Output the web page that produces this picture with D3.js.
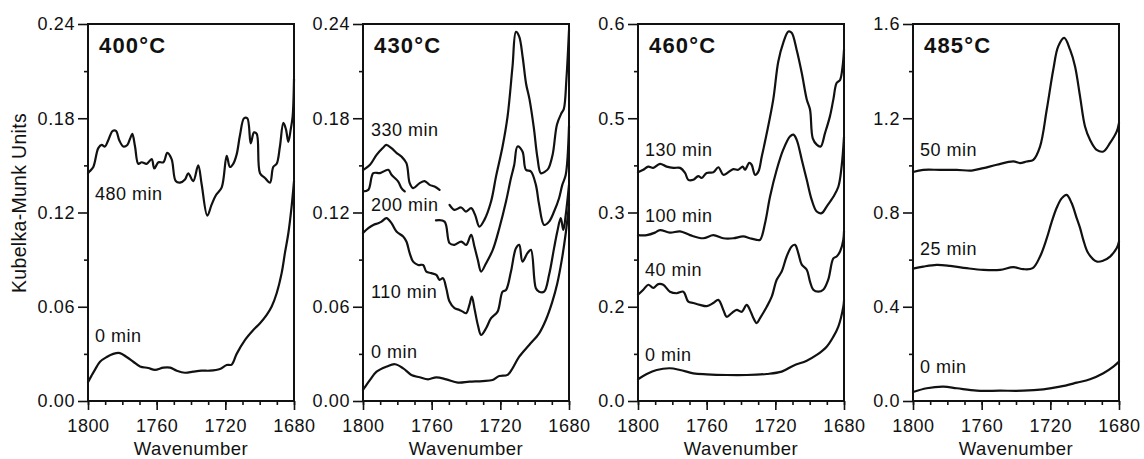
<!DOCTYPE html>
<html><head><meta charset="utf-8">
<script src="https://cdn.jsdelivr.net/npm/d3@7"></script>
<style>
body{margin:0;background:#fff;}
text{font-family:"Liberation Sans",Arial,Helvetica,sans-serif;fill:#111;}
</style></head>
<body>
<script>
// ---------------- DATA ----------------
const temperatures = ["400°C","430°C","460°C","485°C"];
const yMax = [0.24, 0.24, 0.6, 1.6];
const xTicks = [1800, 1760, 1720, 1680];
const yTickValues400 = [0, 0.06, 0.12, 0.18, 0.24];
const yTickLabels400 = ["0.00","0.06","0.12","0.18","0.24"];
const yTickValues430 = [0, 0.06, 0.12, 0.18, 0.24];
const yTickLabels430 = ["0.00","0.06","0.12","0.18","0.24"];
const yTickValues460 = [0, 0.15, 0.3, 0.45, 0.6];
const yTickLabels460 = ["0.0","0.2","0.3","0.5","0.6"];
const yTickValues485 = [0, 0.4, 0.8, 1.2, 1.6];
const yTickLabels485 = ["0.0","0.4","0.8","1.2","1.6"];

// [wavenumber, Kubelka-Munk] ; null value = gap in the printed trace
const s400_480 = [[1800,0.145],[1799.2,0.146],[1796.9,0.149],[1794,0.161],[1792,0.163],[1790.1,0.162],[1788.2,0.166],[1785.6,0.172],[1783.7,0.172],[1781.8,0.166],[1779.4,0.162],[1777.1,0.163],[1775.5,0.167],[1774.2,0.17],[1772.6,0.162],[1770.7,0.151],[1768.7,0.152],[1765.8,0.151],[1762.9,0.154],[1761.4,0.148],[1759,0.152],[1756.1,0.152],[1753.8,0.158],[1751.3,0.154],[1748.9,0.14],[1746.4,0.139],[1743.5,0.141],[1741.6,0.145],[1738.7,0.14],[1735.8,0.15],[1733.8,0.138],[1730.5,0.118],[1728,0.125],[1725.5,0.131],[1722.1,0.136],[1719.2,0.156],[1717.3,0.149],[1715.4,0.151],[1713.4,0.157],[1711.5,0.169],[1709.1,0.18],[1707.2,0.18],[1705.2,0.164],[1703.3,0.171],[1701.7,0.17],[1699.8,0.145],[1696.9,0.142],[1694,0.139],[1692.1,0.149],[1690.1,0.151],[1688.2,0.162],[1686.2,0.177],[1684.7,0.173],[1683.3,0.165],[1681.9,0.173],[1680.8,0.181],[1680,0.205]];
const s400_0 = [[1800,0.012],[1798,0.016],[1795.9,0.02],[1793,0.025],[1789.1,0.028],[1785.3,0.03],[1781.4,0.0305],[1777.5,0.028],[1773.6,0.025],[1769.7,0.022],[1764.9,0.021],[1761,0.0198],[1756.1,0.0212],[1752.2,0.0212],[1748.3,0.0193],[1743.5,0.018],[1738.7,0.0187],[1733.8,0.0193],[1729,0.0193],[1723.1,0.0204],[1719.2,0.0229],[1716.3,0.0232],[1713.4,0.03],[1708.5,0.0389],[1703.7,0.0452],[1699.8,0.0495],[1695.9,0.0548],[1693,0.0601],[1690.1,0.0686],[1687.2,0.0814],[1685.3,0.0941],[1683.3,0.1068],[1681.4,0.1238],[1680,0.14]];

const s430_330 = [[1800,0.147],[1795.9,0.1504],[1792.1,0.1567],[1788.5,0.161],[1786.5,0.163],[1783.4,0.161],[1780.5,0.158],[1777.6,0.1556],[1774.7,0.1514],[1772.8,0.1387],[1770.8,0.1355],[1767,0.1387],[1764.1,0.14],[1761.2,0.1376],[1758.3,0.1365],[1755.4,0.1344],[1752.5,null],[1749.6,0.1249],[1746.7,0.1217],[1742.8,0.1232],[1740,0.1206],[1737,0.1228],[1734.7,0.1185],[1732.2,0.111],[1729.3,0.1153],[1725.4,0.127],[1722.5,0.143],[1718.7,0.162],[1715.8,0.181],[1712.9,0.213],[1710.9,0.235],[1709,0.232],[1707,0.219],[1705,0.202],[1703,0.192],[1700.5,0.174],[1698.4,0.155],[1696.4,0.145],[1694,0.146],[1692,0.148],[1689.5,0.157],[1687,0.176],[1684.5,0.183],[1683,0.186],[1681.5,0.205],[1680,0.236]];
const s430_200 = [[1800,0.1334],[1796.9,0.1344],[1794,0.145],[1790.1,0.1451],[1785.3,0.1472],[1783.4,0.144],[1779.5,0.1397],[1777.6,0.1355],[1775.7,0.1334],[1766,null],[1757.5,0.115],[1752.5,0.1142],[1749.6,0.1005],[1746.7,0.0994],[1742.8,0.1015],[1739.9,0.0994],[1737,0.1058],[1735.1,0.0983],[1733.1,0.0898],[1731.2,0.0824],[1728.3,0.0877],[1724.4,0.0962],[1720.6,0.11],[1716.7,0.127],[1713.8,0.1419],[1711.9,0.1504],[1710,0.162],[1707.1,0.1588],[1705.1,0.1472],[1702.2,0.1461],[1699.3,0.1376],[1697.4,0.1249],[1694.5,0.1121],[1691.6,0.1142],[1688.7,0.1206],[1685.8,0.1291],[1683.9,0.1376],[1681.9,0.144],[1680,0.175]];
const s430_110 = [[1800,0.107],[1796.9,0.11],[1794,0.1121],[1791.1,0.1132],[1789.2,0.1142],[1786.3,0.1164],[1783.4,0.1132],[1780.5,0.1079],[1776.6,0.1047],[1774.7,0.1015],[1772.8,0.0941],[1770.8,0.0887],[1767.9,0.0866],[1765,0.0866],[1763.1,0.0824],[1760.2,0.0814],[1757.3,0.0803],[1755.4,0.0771],[1753.4,0.0782],[1751.5,0.0718],[1749.6,0.0633],[1746.7,0.0591],[1743.8,0.058],[1741.9,0.0569],[1739.9,0.0559],[1738,0.0612],[1736.6,0.0665],[1735.1,0.0591],[1733.1,0.0484],[1731.2,0.042],[1728.3,0.0463],[1725.4,0.0527],[1721.6,0.0569],[1718.7,0.0696],[1716.7,0.0707],[1713.8,0.0824],[1710.9,0.0973],[1709,0.0994],[1707.1,0.0887],[1704.2,0.0941],[1702.2,0.0962],[1699.3,0.0718],[1697.4,0.0696],[1694.5,0.0696],[1691.6,0.0803],[1688.7,0.0973],[1686.8,0.1079],[1684.8,0.1164],[1683.3,0.1089],[1681.9,0.1185],[1680,0.1376]];
const s430_0 = [[1800,0.007],[1795.9,0.0134],[1792.1,0.0187],[1786.3,0.0219],[1781.4,0.0234],[1776.6,0.0208],[1771.8,0.0166],[1767,0.0151],[1762.1,0.0138],[1757.3,0.0151],[1751.5,0.0138],[1744.7,0.0117],[1738,0.0123],[1730.3,0.0127],[1724.5,0.0134],[1720.6,0.0159],[1715.8,0.0166],[1712.9,0.0208],[1709,0.0282],[1703.2,0.0357],[1697.4,0.0431],[1693.5,0.0516],[1689.7,0.0633],[1686.8,0.075],[1684.2,0.0898],[1681.9,0.1068],[1680,0.125]];

const s460_130 = [[1800,0.364],[1796.9,0.368],[1794,0.373],[1791.1,0.371],[1787.2,0.3775],[1783.3,0.373],[1779.4,0.371],[1775.5,0.371],[1772.6,0.363],[1770.7,0.352],[1767.8,0.352],[1764.9,0.358],[1762.9,0.355],[1760,0.363],[1756.1,0.364],[1753.2,0.372],[1750.3,0.36],[1747.4,0.364],[1744.5,0.369],[1741.6,0.368],[1739,0.373],[1737.7,0.368],[1735.2,0.379],[1733.8,0.376],[1731.8,0.36],[1729.9,0.365],[1727.9,0.389],[1725,0.426],[1721.2,0.48],[1718.3,0.54],[1715.4,0.57],[1712.4,0.588],[1710.5,0.586],[1707.6,0.559],[1704.6,0.522],[1701.7,0.48],[1699.8,0.464],[1698.2,0.418],[1695.9,0.408],[1693.6,0.405],[1691.1,0.426],[1688.2,0.453],[1686.2,0.48],[1684.3,0.506],[1682.3,0.511],[1680.8,0.533],[1680,0.559]];
const s460_100 = [[1800,0.264],[1794.9,0.264],[1790.1,0.268],[1787.2,0.272],[1781.4,0.268],[1775.5,0.27],[1769.7,0.264],[1762,0.259],[1756.1,0.264],[1750.3,0.259],[1744.5,0.259],[1738.7,0.262],[1734.8,0.259],[1730.9,0.2565],[1728.9,0.2565],[1726,0.283],[1723.1,0.325],[1719.2,0.368],[1715.4,0.4],[1711.5,0.421],[1709.5,0.424],[1707.6,0.416],[1704.6,0.384],[1701.7,0.352],[1698.8,0.32],[1695.9,0.3015],[1693,0.299],[1690.1,0.3095],[1686.2,0.325],[1683.3,0.341],[1681.4,0.373],[1680,0.42]];
const s460_40 = [[1800,0.169],[1796.9,0.177],[1794,0.185],[1791.1,0.18],[1788.2,0.186],[1785.3,0.185],[1781.4,0.174],[1777.5,0.1715],[1773.6,0.174],[1770.7,0.158],[1767.8,0.156],[1763.9,0.153],[1760,0.151],[1756.1,0.156],[1753.2,0.161],[1750.3,0.145],[1748.3,0.134],[1745.4,0.14],[1742.5,0.145],[1739.6,0.142],[1736.7,0.153],[1734.8,0.145],[1732.8,0.132],[1730.9,0.124],[1728.9,0.132],[1725,0.15],[1722.1,0.166],[1719.2,0.193],[1716.3,0.206],[1713.4,0.23],[1710.5,0.246],[1708.5,0.2485],[1706.6,0.235],[1704.6,0.217],[1701.7,0.209],[1699.8,0.19],[1697.9,0.177],[1695,0.174],[1692.1,0.177],[1689.2,0.193],[1686.2,0.227],[1684.3,0.23],[1682.3,0.238],[1680.4,0.2565],[1680,0.27]];
const s460_0 = [[1800,0.0346],[1794.9,0.043],[1789.1,0.0494],[1781.4,0.0521],[1775.5,0.0494],[1767.8,0.0441],[1760,0.0425],[1748.3,0.0414],[1736.7,0.0414],[1725,0.043],[1716.3,0.0467],[1709.5,0.0562],[1701.7,0.0642],[1695.9,0.0733],[1690.1,0.0865],[1686.2,0.1024],[1683.3,0.1184],[1680.4,0.1502],[1680,0.16]];

const s485_50 = [[1800,0.972],[1794,0.981],[1784.3,0.981],[1774.5,0.981],[1765.8,0.978],[1759,0.9885],[1751.2,1.0025],[1741.6,1.0166],[1737.7,1.0098],[1733.8,1.0166],[1729.9,1.0238],[1726,1.08],[1722.1,1.236],[1718.3,1.406],[1715.4,1.505],[1711.9,1.541],[1708.5,1.491],[1705.6,1.42],[1702.7,1.293],[1699.8,1.165],[1696.9,1.109],[1693,1.066],[1689.1,1.059],[1685.2,1.095],[1681.3,1.144],[1680,1.18]];
const s485_25 = [[1800,0.562],[1794,0.5705],[1786.2,0.5777],[1778.4,0.5735],[1768.7,0.5637],[1759,0.5565],[1749.3,0.5565],[1741.6,0.568],[1735.7,0.5595],[1730.3,0.5637],[1726,0.613],[1722.1,0.69],[1719.2,0.76],[1716.3,0.82],[1713.4,0.86],[1710.5,0.875],[1707.6,0.84],[1704.6,0.775],[1702.7,0.735],[1700.8,0.684],[1697.9,0.627],[1693,0.592],[1689.1,0.596],[1685.2,0.613],[1681.3,0.649],[1680,0.677]];
const s485_0 = [[1800,0.038],[1792,0.054],[1782.3,0.0607],[1774.5,0.054],[1762.9,0.0438],[1749.3,0.0438],[1735.7,0.0438],[1724.1,0.0497],[1714.4,0.0607],[1704.6,0.0777],[1696.9,0.0922],[1689.1,0.1177],[1683.3,0.1457],[1680,0.167]];

const seriesLabels400 = ["480 min","0 min"];
const seriesLabels430 = ["330 min","200 min","110 min","0 min"];
const seriesLabels460 = ["130 min","100 min","40 min","0 min"];
const seriesLabels485 = ["50 min","25 min","0 min"];

// ---------------- LAYOUT (positions only, not data) ----------------
const W = 1144, H = 459;
const PANEL_LEFT = 88, PANEL_STEP = 275, PANEL_W = 206, TOP = 24, BOTTOM = 401;
// label baseline anchors, expressed in each panel's y units
const labelAnchors = [[0.128,0.0378],[0.1688,0.121,0.0656,0.0274],[0.39,0.285,0.199,0.0637],[1.041,0.62,0.119]];
const labelIndent = [7,8,7,7];

const panels = [
  {title:temperatures[0], ymax:yMax[0], ticks:yTickValues400, tickLabels:yTickLabels400, series:[s400_480,s400_0], labels:seriesLabels400},
  {title:temperatures[1], ymax:yMax[1], ticks:yTickValues430, tickLabels:yTickLabels430, series:[s430_330,s430_200,s430_110,s430_0], labels:seriesLabels430},
  {title:temperatures[2], ymax:yMax[2], ticks:yTickValues460, tickLabels:yTickLabels460, series:[s460_130,s460_100,s460_40,s460_0], labels:seriesLabels460},
  {title:temperatures[3], ymax:yMax[3], ticks:yTickValues485, tickLabels:yTickLabels485, series:[s485_50,s485_25,s485_0], labels:seriesLabels485}
];

const svg = d3.select("body").append("svg").attr("width",W).attr("height",H);
svg.append("rect").attr("width",W).attr("height",H).attr("fill","#fff");

const FONT = "18px";

panels.forEach((p,i)=>{
  const x0 = PANEL_LEFT + i*PANEL_STEP;
  const x = d3.scaleLinear().domain([1800,1680]).range([x0, x0+PANEL_W]);
  const y = d3.scaleLinear().domain([0,p.ymax]).range([BOTTOM, TOP]);
  const g = svg.append("g");

  const gxm = g.append("g").attr("transform",`translate(0,${BOTTOM})`)
    .call(d3.axisBottom(x).tickValues(d3.range(1800,1679,-10)).tickSize(4).tickFormat(""));
  const gx = g.append("g").attr("transform",`translate(0,${BOTTOM})`)
    .call(d3.axisBottom(x).tickValues(xTicks).tickSize(9).tickPadding(9).tickFormat(d3.format("d")));
  const minor = d3.pairs(p.ticks).map(([a,b])=>(a+b)/2);
  const gym = g.append("g").attr("transform",`translate(${x0},0)`)
    .call(d3.axisLeft(y).tickValues(minor).tickSize(4).tickFormat(""));
  const gy = g.append("g").attr("transform",`translate(${x0},0)`)
    .call(d3.axisLeft(y).tickValues(p.ticks).tickSize(10).tickPadding(3)
      .tickFormat((d,k)=>p.tickLabels[k]));
  [gxm,gx,gym,gy].forEach(a=>{
    a.select(".domain").remove();
    a.selectAll("line").attr("stroke","#111").attr("stroke-width",1.6);
    a.selectAll("text").attr("font-size",FONT).attr("font-family",null).attr("fill","#111").style("letter-spacing","0.6px");
  });

  const line = d3.line()
    .defined(d=>d[1]!==null)
    .x(d=>x(d[0])).y(d=>y(d[1]))
    .curve(d3.curveCatmullRom.alpha(0.5));
  p.series.forEach(s=>{
    g.append("path").attr("d",line(s)).attr("fill","none")
      .attr("stroke","#111").attr("stroke-width",2.2)
      .attr("stroke-linejoin","round").attr("stroke-linecap","round");
  });

  g.append("rect").attr("x",x0).attr("y",TOP).attr("width",PANEL_W).attr("height",BOTTOM-TOP)
    .attr("fill","none").attr("stroke","#111").attr("stroke-width",2);

  g.append("text").attr("x",x0+11).attr("y",53).attr("font-size","22px").attr("font-weight","bold")
    .style("letter-spacing","1.2px").text(p.title);

  p.labels.forEach((t,k)=>{
    g.append("text").attr("x",x0+labelIndent[i]).attr("y",y(labelAnchors[i][k]))
      .attr("font-size",FONT).style("letter-spacing","0.5px").text(t);
  });

  g.append("text").attr("x",x0+PANEL_W/2).attr("y",455).attr("text-anchor","middle")
    .attr("font-size","18.5px").style("letter-spacing","0.5px").text("Wavenumber");
});

svg.append("text").attr("transform","translate(26,203) rotate(-90)").attr("text-anchor","middle")
  .attr("font-size","19.5px").style("letter-spacing","0.3px").text("Kubelka-Munk Units");
</script>
</body></html>
